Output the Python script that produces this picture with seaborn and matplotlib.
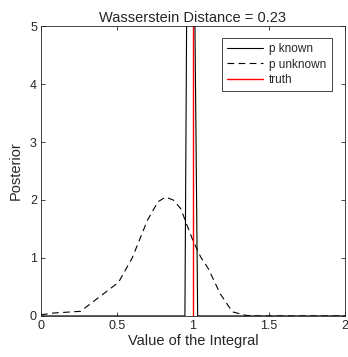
import matplotlib
matplotlib.use("Agg")
import matplotlib.pyplot as plt
import seaborn as sns
import pandas as pd
from matplotlib.ticker import FuncFormatter

## --- values
known_x = [0.0, 0.947, 0.979, 1.031, 2.0]
known_y = [0.0, 0.0, 14.5, 0.0, 0.0]

unknown_x = [0.0, 0.08, 0.26, 0.51, 0.6, 0.7, 0.77, 0.82, 0.87, 0.92, 0.96,
             1.0, 1.05, 1.1, 1.18, 1.26, 1.35, 1.4, 2.0]
unknown_y = [0.02, 0.05, 0.08, 0.58, 1.0, 1.65, 1.97, 2.05, 2.0, 1.85, 1.57,
             1.3, 1.02, 0.82, 0.38, 0.07, 0.01, 0.0, 0.0]

truth = 1.0
distance = 0.23

x_ticks = [0, 0.5, 1, 1.5, 2]
y_ticks = [0, 1, 2, 3, 4, 5]

sns.set_style("ticks")
plt.rcParams['font.family'] = ['Liberation Sans', 'DejaVu Sans']

known = pd.DataFrame({'x': known_x, 'y': known_y})
unknown = pd.DataFrame({'x': unknown_x, 'y': unknown_y})

fig = plt.figure(figsize=(3.48, 3.57), dpi=100)
ax = fig.add_axes([0.118, 0.115, 0.873, 0.812])

sns.lineplot(data=known, x='x', y='y', ax=ax, color='black', lw=0.8,
             label='p known', sort=False, estimator=None)
sns.lineplot(data=unknown, x='x', y='y', ax=ax, color='black', lw=0.8,
             linestyle=(0, (6, 4)), label='p unknown', sort=False, estimator=None)
ax.axvline(truth, color='red', lw=1.0, label='truth')

ax.set_xlim(0, 2)
ax.set_ylim(0, 5)
ax.set_xticks(x_ticks)
ax.set_yticks(y_ticks)
ax.xaxis.set_major_formatter(FuncFormatter(lambda v, p: f'{v:g}'))
ax.tick_params(direction='in', top=True, right=True, labelsize=9,
               length=3, width=0.6, colors='#262626', pad=3)
for s in ax.spines.values():
    s.set_color('#262626')
    s.set_linewidth(0.6)

ax.set_xlabel('Value of the Integral', fontsize=10.5, color='#262626', labelpad=1)
ax.set_ylabel('Posterior', fontsize=10.5, color='#262626', labelpad=5)
ax.set_title(f'Wasserstein Distance = {distance}', fontsize=10.5, pad=3)

leg = ax.legend(loc='upper right', fontsize=8.5, frameon=True, fancybox=False,
                edgecolor='#262626', framealpha=1, handlelength=3.0,
                borderpad=0.45, labelspacing=0.3, handletextpad=0.55,
                borderaxespad=0, bbox_to_anchor=(0.957, 0.96))
leg.get_frame().set_linewidth(0.6)

fig.savefig('out.png', dpi=100)
